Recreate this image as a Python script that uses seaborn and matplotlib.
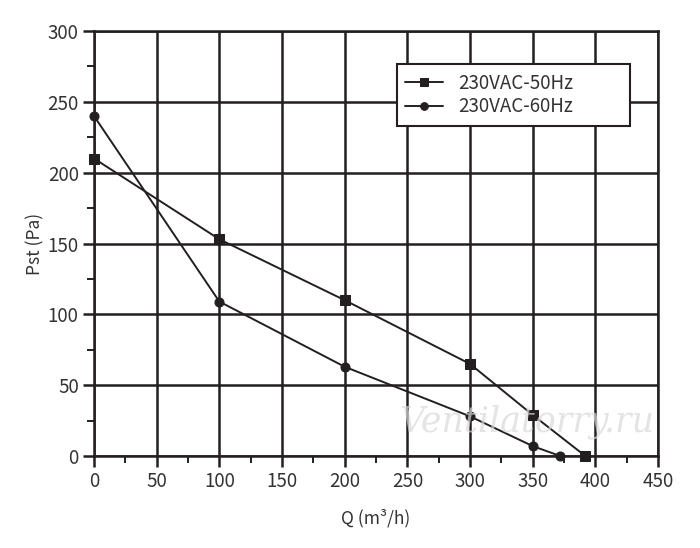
import matplotlib
matplotlib.use("Agg")
import matplotlib.pyplot as plt
import seaborn as sns
import pandas as pd
import numpy as np
from matplotlib.ticker import MultipleLocator

sns.set_theme(style="white")
plt.rcParams['font.family'] = ['Noto Sans CJK SC', 'DejaVu Sans']

q_50 = [0, 100, 200, 300, 350, 392]
p_50 = [210, 153, 110, 65, 29, 0]
q_60 = [0, 100, 200, 300, 350, 372]
p_60 = [240, 109, 63, 28, 7, 0]
series_names = ["230VAC-50Hz", "230VAC-60Hz"]

df = pd.concat([
    pd.DataFrame({"Q": q_50, "P": p_50, "series": series_names[0]}),
    pd.DataFrame({"Q": q_60, "P": p_60, "series": series_names[1]}),
])

ink = "#231f20"
txt = "#333333"
fig = plt.figure(figsize=(7.0, 5.48), dpi=100)
ax = fig.add_axes([94/700, 1-456/548, 564/700, 425/548])

sns.lineplot(data=df, x="Q", y="P", hue="series", style="series",
             markers={series_names[0]: "s", series_names[1]: "o"},
             dashes=False, palette=[ink, ink], linewidth=1.4,
             markersize=6.5, markeredgecolor=ink, ax=ax, sort=False,
             zorder=5, clip_on=False)

ax.set_xlim(0, 450)
ax.set_ylim(0, 300)
ax.xaxis.set_major_locator(MultipleLocator(50))
ax.yaxis.set_major_locator(MultipleLocator(50))
ax.xaxis.set_minor_locator(MultipleLocator(25))
ax.yaxis.set_minor_locator(MultipleLocator(25))
ax.grid(True, which="major", color=ink, linewidth=1.8)
ax.set_axisbelow(True)
for s in ax.spines.values():
    s.set_color(ink)
    s.set_linewidth(1.8)
ax.tick_params(which="major", direction="out", length=8, width=1.8, color=ink,
               labelsize=13.5, labelcolor=txt, pad=3,
               bottom=True, left=True)
ax.tick_params(which="minor", direction="out", length=5, width=1.4, color=ink,
               bottom=True, left=True)

ax.set_xlabel("Q (m³/h)", fontsize=12.5, color=txt, labelpad=12)
ax.set_ylabel("Pst (Pa)", fontsize=12.5, color=txt, labelpad=2)

leg = ax.legend(loc="upper left", bbox_to_anchor=(0.537, 0.774, 0.413, 0.148),
                mode="expand", fontsize=13.5,
                frameon=True, fancybox=False, edgecolor=ink, framealpha=1,
                handlelength=2.0, borderpad=0.45, labelspacing=0.15,
                borderaxespad=0, handletextpad=0.8, markerscale=0.85)
leg.get_frame().set_linewidth(1.5)
leg.set_zorder(10)
for t in leg.get_texts():
    t.set_color(txt)

ax.text(0.768, 0.08, "Ventilatorry.ru", transform=ax.transAxes, fontsize=25,
        style="italic", color="#d9d9d9", alpha=0.7, ha="center", va="center",
        family=["DejaVu Serif"], zorder=6)

fig.savefig("out.png", dpi=100)
